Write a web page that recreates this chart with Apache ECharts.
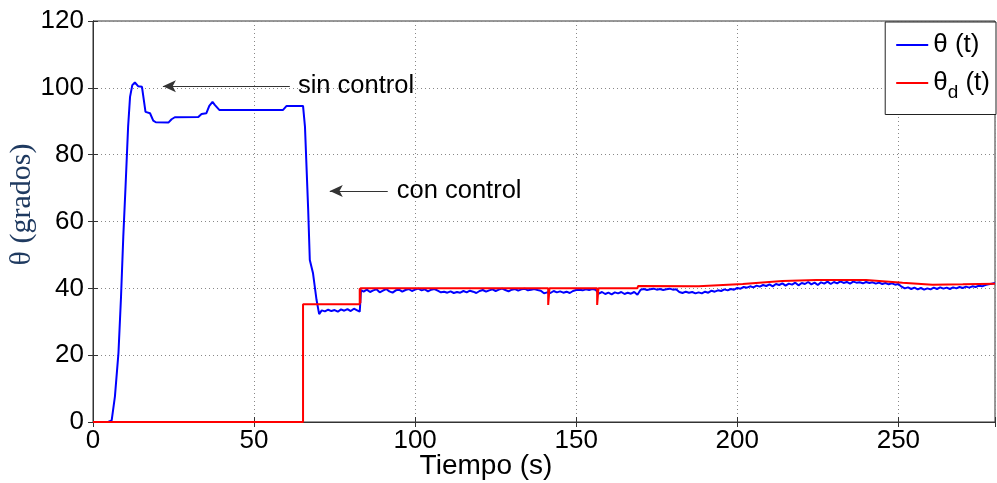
<!DOCTYPE html>
<html>
<head>
<meta charset="utf-8">
<script src="https://cdn.jsdelivr.net/npm/echarts@6.0.0/dist/echarts.min.js"></script>
<style>
  html, body { margin: 0; padding: 0; background: #fff; overflow: hidden; }
  #chart { width: 997px; height: 483px; }
</style>
</head>
<body>
<div id="chart"></div>
<script>
// theta(t): measured angle (blue)
var thetaT = [0, 4.7, 5.8, 6.8, 7.9, 8.7, 9.4, 10.1, 10.9, 11.5, 12.2, 13, 13.5, 14, 14.6, 15.2, 15.6, 16.3, 17.7, 18.7, 19.5, 23.4, 24.4, 25.4, 32.7, 33.7, 35.2, 36.1, 37.1, 37.8, 38.4, 39.2, 59, 60.1, 65.2, 65.8, 66.8, 67.3, 68.3, 69.4, 70.2,
  71, 72, 73, 74, 75, 76, 77, 78, 79, 80, 81, 82, 82.8, 83.2,
  84, 85, 86, 87, 88, 89, 90, 91, 92, 93, 94, 95, 96, 97, 98, 99, 100, 101, 102, 103, 104, 105, 106, 107, 108, 109, 110, 111, 112, 113, 114, 115, 116, 117, 118, 119, 120,
  121, 122, 123, 124, 125, 126, 127, 128, 129, 130, 131, 132, 133, 134, 135, 136, 137, 138, 139, 140, 141, 142, 143, 144, 145, 146, 147, 148, 149, 150, 151, 152, 153, 154, 155, 156,
  157, 158, 159, 160, 161, 162, 163, 164, 165, 166, 167, 168, 169, 170, 171, 172, 173, 174, 175, 176, 177, 178, 179, 180, 181, 182, 183, 184, 185, 186, 187, 188, 189, 190, 191, 192,
  193, 194, 195, 196, 197, 198, 199, 200, 201, 202, 203, 204, 205, 206, 207, 208, 209, 210, 211, 212, 213, 214, 215, 216, 217, 218, 219, 220, 221, 222, 223, 224, 225, 226, 227, 228,
  229, 230, 231, 232, 233, 234, 235, 236, 237, 238, 239, 240, 241, 242, 243, 244, 245, 246, 247, 248, 249, 250, 251, 252, 253, 254, 255, 256, 257, 258, 259, 260, 261, 262, 263, 264,
  265, 266, 267, 268, 269, 270, 271, 272, 273, 274, 275, 276, 277, 278, 279, 280];
var thetaV = [0, 0, 0.5, 7.6, 20.6, 37.5, 55.4, 70.4, 88.4, 97.3, 100.8, 101.6, 101.5, 100.5, 100.2, 100.3, 99.8, 92.8, 92.4, 90.2, 89.7, 89.6, 90.6, 91.2, 91.3, 92.2, 92.4, 94.6, 95.8, 94.9, 95.4, 93.4, 93.4, 94.6, 94.6, 88.4, 63.4, 48.5, 44.5, 36.5, 32.3,
  33.4, 33.1, 33.6, 33.2, 33.5, 33.0, 33.7, 33.3, 33.8, 33.2, 33.9, 33.4, 33.0, 39.5,
  39.0, 39.6, 38.9, 39.4, 39.7, 38.8, 39.3, 39.8, 39.1, 38.7, 39.4, 39.6, 39.0, 39.5, 39.8, 39.2, 39.6, 39.9, 39.4, 39.7, 39.1, 39.6, 39.8, 39.3, 38.8, 39.0, 38.7, 39.1, 38.6, 38.9, 38.7, 39.2, 38.8, 39.3, 39.0, 38.6, 39.2,
  39.5, 39.0, 39.4, 39.7, 39.2, 39.6, 39.9, 39.5, 39.1, 39.6, 39.8, 39.3, 39.7, 39.9, 39.4, 39.6, 39.8, 39.5, 39.3, 38.5, 38.8, 38.6, 39.2, 38.8, 39.1, 38.7, 39.0, 38.6, 39.2, 39.5, 39.6, 39.4, 39.7, 39.5, 39.8, 39.6,
  38.4, 38.9, 38.3, 38.7, 38.2, 38.8, 38.5, 38.9, 38.3, 38.7, 38.4, 38.9, 38.1, 39.6, 39.8, 39.5, 39.7, 39.9, 39.6, 39.8, 39.5, 39.7, 39.9, 39.6, 39.7, 38.9, 38.6, 39.0, 38.7, 38.9, 38.5, 38.8, 38.5, 39.0, 38.7, 39.3,
  39.0, 39.4, 39.2, 39.7, 39.4, 39.8, 39.6, 40.1, 39.9, 40.4, 40.2, 40.6, 40.3, 40.8, 40.5, 41.0, 40.7, 41.2, 40.6, 41.3, 41.0, 41.5, 40.8, 41.4, 41.1, 41.7, 40.9, 41.6, 41.3, 41.9, 41.2, 41.7, 41.0, 41.8, 41.4, 42.0,
  41.3, 41.9, 41.5, 42.1, 41.6, 41.9, 41.4, 42.0, 41.7, 41.8, 41.5, 41.9, 41.6, 41.8, 41.4, 41.7, 41.3, 41.6, 41.2, 41.5, 41.1, 41.3, 40.5, 40.0, 40.3, 39.8, 40.2, 39.7, 40.1, 39.6, 40.0, 39.7, 40.2, 39.8, 40.3, 39.9,
  40.2, 39.8, 40.3, 40.0, 40.4, 40.1, 40.5, 40.2, 40.6, 40.4, 40.8, 40.6, 41.0, 41.2, 41.4, 41.6];

// theta_d(t): reference angle (red)
var refT = [0, 65.2, 65.2, 82.8, 82.8, 83.0, 83.0, 83.3, 141.3, 141.3, 141.7, 141.7, 156.5, 156.5, 156.9, 156.9, 169, 169.2, 188, 201.7, 214, 224.5, 240, 251.3, 260.6, 270, 280];
var refV = [0, 0, 35.2, 35.2, 40, 35.6, 40, 40, 40, 35, 35, 40, 40, 35, 35, 40, 40, 40.7, 40.6, 41.3, 42.2, 42.5, 42.5, 41.7, 41.1, 41.2, 41.4];

var xTicks = [0, 50, 100, 150, 200, 250];
var yTicks = [0, 20, 40, 60, 80, 100, 120];

function pairs(t, v) {
  var out = [];
  for (var i = 0; i < t.length; i++) out.push([t[i], v[i]]);
  return out;
}

var sans = 'Liberation Sans';
var chart = echarts.init(document.getElementById('chart'));

var option = {
  animation: false,
  backgroundColor: '#fff',
  grid: {
    left: 93, right: 2, top: 21, height: 401,
    outerBoundsMode: 'none',
    show: true, borderColor: '#333', borderWidth: 1
  },
  legend: {
    orient: 'vertical',
    right: 1,
    top: 22,
    padding: [10, 6, 12, 11],
    borderColor: '#222',
    borderWidth: 1,
    backgroundColor: '#fff',
    icon: 'rect',
    itemWidth: 32,
    itemHeight: 2,
    itemGap: 12,
    data: ['θ (t)', 'θd (t)'],
    formatter: function (name) {
      return name === 'θ (t)' ? '{a|θ (t)}' : '{a|θ}{s|d}{a| (t)}';
    },
    textStyle: {
      rich: {
        a: { fontFamily: sans, fontSize: 26, color: '#000' },
        s: { fontFamily: sans, fontSize: 19, color: '#000', padding: [20, 0, 0, 0] }
      }
    }
  },
  xAxis: [{
    type: 'value', min: 0, max: 280, interval: 50,
    name: 'Tiempo (s)', nameLocation: 'middle', nameGap: 30, nameMoveOverlap: false,
    nameTextStyle: { fontFamily: sans, fontSize: 28, color: '#000', padding: [0, 116, 0, 0] },
    axisLine: { onZero: false, lineStyle: { color: '#333' } },
    axisTick: { inside: true, length: 5, lineStyle: { color: '#333' } },
    axisLabel: {
      fontFamily: sans, fontSize: 26, color: '#000', margin: 6,
      formatter: function (v) { return xTicks.indexOf(v) >= 0 ? v : ''; }
    },
    splitLine: { show: true, lineStyle: { color: '#888', type: [1, 3] } }
  }, {
    type: 'value', min: 0, max: 280, interval: 50, position: 'top',
    axisLine: { show: true, lineStyle: { color: '#333' } },
    axisTick: { inside: true, length: 5, lineStyle: { color: '#333' } },
    axisLabel: { show: false }, splitLine: { show: false }
  }],
  yAxis: [{
    type: 'value', min: 0, max: 120, interval: 20,
    name: 'θ (grados)', nameLocation: 'middle', nameRotate: 90, nameGap: 56, nameMoveOverlap: false,
    nameTextStyle: { fontFamily: 'Liberation Serif', fontSize: 30, color: '#1f3a60', padding: [0, 0, 0, 34] },
    axisLine: { show: true, lineStyle: { color: '#333' } },
    axisTick: { inside: true, length: 5, lineStyle: { color: '#333' } },
    axisLabel: {
      fontFamily: sans, fontSize: 26, color: '#000', margin: 9,
      formatter: function (v) { return yTicks.indexOf(v) >= 0 ? v : ''; }
    },
    splitLine: { show: true, lineStyle: { color: '#888', type: [1, 3] } }
  }, {
    type: 'value', min: 0, max: 120, interval: 20, position: 'right',
    axisLine: { show: true, lineStyle: { color: '#333' } },
    axisTick: { inside: true, length: 5, lineStyle: { color: '#333' } },
    axisLabel: { show: false }, splitLine: { show: false }
  }],
  series: [
    {
      name: 'θ (t)', type: 'line', data: pairs(thetaT, thetaV),
      symbol: 'none', color: '#0000ff',
      lineStyle: { width: 2, color: '#0000ff' },
      markLine: {
        silent: true, symbol: ['none', 'arrow'], symbolSize: [9, 13],
        label: { show: false },
        lineStyle: { color: '#333', width: 1, type: 'solid' },
        data: [
          [{ coord: [61.1, 100.5] }, { coord: [21.7, 100.5] }],
          [{ coord: [91.5, 69.1] }, { coord: [73.5, 69.1] }]
        ]
      },
      markPoint: {
        silent: true, symbol: 'circle', symbolSize: 0,
        label: { show: true, position: 'right', distance: 0, fontFamily: sans, fontSize: 25.5, color: '#000' },
        data: [
          { coord: [63.6, 100.5], value: 'sin control', label: { formatter: 'sin control' } },
          { coord: [94.3, 69.1], value: 'con control', label: { formatter: 'con control' } }
        ]
      }
    },
    {
      name: 'θd (t)', type: 'line', data: pairs(refT, refV),
      symbol: 'none', color: '#ff0000',
      lineStyle: { width: 2, color: '#ff0000' }
    }
  ]
};

chart.setOption(option);
</script>
</body>
</html>
